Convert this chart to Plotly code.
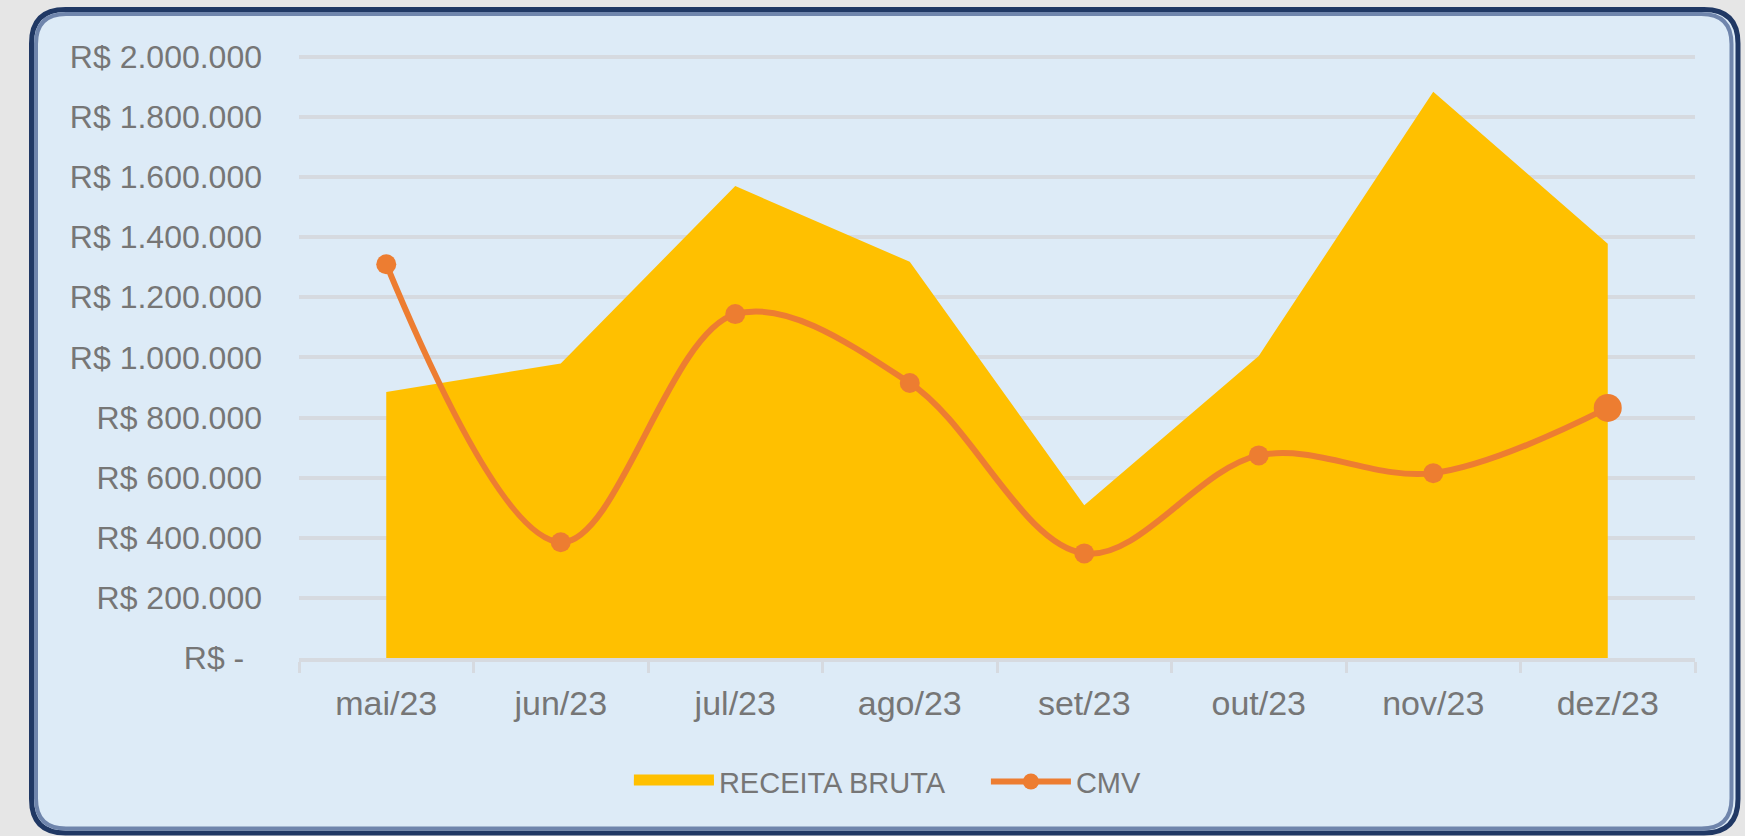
import plotly.graph_objects as go

# ---- data ----
months = ["mai/23", "jun/23", "jul/23", "ago/23", "set/23", "out/23", "nov/23", "dez/23"]
receita_bruta = [885000, 980000, 1570000, 1318000, 508000, 1005000, 1884000, 1378000]
cmv = [1310000, 385000, 1144000, 915000, 348000, 674000, 615000, 832000]
cmv_marker_sizes = [20, 20, 20, 20, 20, 20, 20, 28]
y_tick_values = [0, 200000, 400000, 600000, 800000, 1000000, 1200000, 1400000, 1600000, 1800000, 2000000]
y_tick_labels = ["R$ -\u00a0\u00a0", "R$ 200.000", "R$ 400.000", "R$ 600.000", "R$ 800.000",
                 "R$ 1.000.000", "R$ 1.200.000", "R$ 1.400.000", "R$ 1.600.000",
                 "R$ 1.800.000", "R$ 2.000.000"]

# ---- geometry ----
FIG_W, FIG_H = 1745, 836
M_L, M_R, M_T, M_B = 299, 50, 55, 178
PW = FIG_W - M_L - M_R
PH = FIG_H - M_T - M_B


def px_x(px):
    return (px - M_L) / PW


def px_y(py):
    return (FIG_H - M_B - py) / PH


def rounded_rect(x0, y0, x1, y1, r):
    pts = [
        f"M {px_x(x0 + r)},{px_y(y0)}",
        f"L {px_x(x1 - r)},{px_y(y0)}",
        f"Q {px_x(x1)},{px_y(y0)} {px_x(x1)},{px_y(y0 + r)}",
        f"L {px_x(x1)},{px_y(y1 - r)}",
        f"Q {px_x(x1)},{px_y(y1)} {px_x(x1 - r)},{px_y(y1)}",
        f"L {px_x(x0 + r)},{px_y(y1)}",
        f"Q {px_x(x0)},{px_y(y1)} {px_x(x0)},{px_y(y1 - r)}",
        f"L {px_x(x0)},{px_y(y0 + r)}",
        f"Q {px_x(x0)},{px_y(y0)} {px_x(x0 + r)},{px_y(y0)}",
        "Z",
    ]
    return " ".join(pts)


FONT = "Liberation Sans, Arial, sans-serif"
TXT = "#767676"

fig = go.Figure()

fig.add_trace(go.Scatter(
    x=months, y=receita_bruta, mode="lines", fill="tozeroy",
    fillcolor="#FFC000", line=dict(width=0, color="#FFC000"),
    name="RECEITA BRUTA", showlegend=False, hoverinfo="x+y",
))
# legend entry for the area
fig.add_trace(go.Scatter(
    x=[None], y=[None], mode="lines", fill="toself", fillcolor="#FFC000",
    line=dict(width=10, color="#FFC000"),
    name="RECEITA BRUTA", showlegend=True,
))
fig.add_trace(go.Scatter(
    x=months, y=cmv, mode="lines+markers", name="CMV",
    line=dict(color="#ED7D31", width=6, shape="spline", smoothing=1),
    marker=dict(color="#ED7D31", size=cmv_marker_sizes, opacity=1, line=dict(width=0)),
))

fig.update_layout(
    width=FIG_W, height=FIG_H,
    margin=dict(l=M_L, r=M_R, t=M_T, b=M_B),
    paper_bgcolor="#E6E6E6",
    plot_bgcolor="rgba(0,0,0,0)",
    font=dict(family=FONT, color=TXT),
    shapes=[
        dict(type="path", xref="paper", yref="paper", layer="below",
             path=rounded_rect(31.5, 9.5, 1738, 833, 34),
             line=dict(color="#203864", width=5), fillcolor="#DDEBF7"),
        dict(type="path", xref="paper", yref="paper", layer="below",
             path=rounded_rect(36, 14, 1731.5, 828.5, 30),
             line=dict(color="#6F85AC", width=4), fillcolor="#DDEBF7"),
    ],
    xaxis=dict(
        type="category", range=[-0.5, 7.5],
        showgrid=False, zeroline=False,
        showline=True, linecolor="#D6DAE0", linewidth=4,
        ticks="outside", tickson="boundaries", ticklen=11,
        tickcolor="#D6DAE0", tickwidth=3,
        tickfont=dict(size=34, color=TXT, family=FONT),
        ticklabelstandoff=12,
    ),
    yaxis=dict(
        range=[0, 2006000],
        tickmode="array", tickvals=y_tick_values, ticktext=y_tick_labels,
        showgrid=True, gridcolor="#D6DAE0", gridwidth=4,
        zeroline=False, showline=False, ticks="",
        tickfont=dict(size=32, color=TXT, family=FONT),
        ticklabelstandoff=36,
    ),
    legend=dict(
        orientation="h", xref="container", yref="container",
        x=0.565, xanchor="center", y=0.065, yanchor="middle",
        font=dict(size=29, color=TXT, family=FONT),
        itemwidth=80, bgcolor="rgba(0,0,0,0)",
        entrywidth=262, entrywidthmode="pixels",
    ),
    showlegend=True,
)

fig.write_html("out.html", config={"displayModeBar": False},
               post_script="document.body.style.margin='0';")
